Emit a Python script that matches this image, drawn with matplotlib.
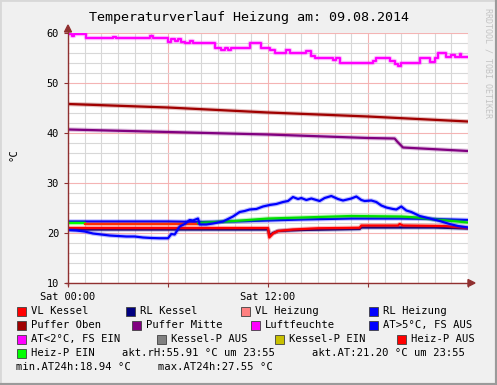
import matplotlib
matplotlib.use('Agg')
import matplotlib.pyplot as plt
from matplotlib.patches import Rectangle, Polygon
from matplotlib.lines import Line2D
from matplotlib.ticker import MultipleLocator, FixedLocator

# --- data (hours since Sat 00:00, degrees C / %rH) ---
luft_h = [0, 0.25, 0.35, 1.08, 2.7, 2.9, 4.9, 5.1, 6.0, 6.2, 6.4, 6.6, 6.8, 7.0, 7.3, 7.5,
          8.8, 9.2, 9.4, 9.6, 9.8, 10.9, 11.6, 12.1, 12.4, 13.1, 13.3, 14.3, 14.6, 14.8,
          15.9, 16.1, 16.3, 18.3, 18.5, 19.3, 19.6, 19.8, 20.0, 21.1, 21.7, 22.0, 22.2,
          22.7, 23.0, 23.2, 23.5, 23.6, 24]
luft_v = [59.9, 59.4, 59.9, 59, 59.3, 59, 59.4, 59, 58.3, 58.8, 58.5, 58.9, 58.3, 58, 58.4, 58,
          57, 56.6, 57, 56.6, 57, 58, 57, 56.6, 56, 56.6, 56, 56.5, 55.5, 55,
          54.7, 55, 54, 54.4, 55, 54.5, 53.8, 53.4, 54, 55, 54.3, 55, 56,
          55.3, 55.6, 55.2, 55.9, 55.3, 55.3]

oben_h = [0, 6, 12, 18, 24]
oben_v = [45.8, 45.1, 44.1, 43.3, 42.3]

mitte_h = [0, 6, 12, 18, 19.6, 19.75, 20.1, 24]
mitte_v = [40.7, 40.2, 39.7, 39.0, 38.9, 38.3, 37.1, 36.4]

rlh_h = [0, 6, 8, 10, 12, 14, 17, 20, 22, 24]
rlh_v = [22.3, 22.3, 22.2, 22.3, 22.5, 22.7, 22.9, 22.9, 22.8, 22.6]

# VL Heizung, coloured by heating pump state
vlh_ein1_h = [0, 1.0]
vlh_ein1_v = [22.1, 22.1]
vlh_aus_h = [1.0, 7.8]
vlh_aus_v = [21.9, 21.9]
vlh_ein2_h = [7.8, 10, 12, 14, 17, 20, 21, 22, 24]
vlh_ein2_v = [22.0, 22.4, 22.9, 23.1, 23.4, 23.3, 23.1, 22.7, 22.1]

vlk_h = [0, 12.0, 12.08, 12.3, 12.6, 13.5, 15, 17.5, 17.6, 19.8, 19.9, 20.1, 22.6, 24]
vlk_v = [21.0, 21.0, 19.1, 19.9, 20.4, 20.7, 20.95, 21.05, 21.5, 21.5, 21.8, 21.5, 21.4, 21.0]

rlk_h = [0, 12.0, 12.1, 12.3, 12.6, 14, 17.5, 17.6, 22, 24]
rlk_v = [20.7, 20.7, 19.5, 20.0, 20.4, 20.6, 20.8, 21.1, 21.1, 20.9]

at_h = [0, 0.5, 1, 1.5, 2, 2.5, 3, 3.5, 4, 4.5, 5, 5.5, 6, 6.2, 6.4, 6.7, 7, 7.3, 7.5, 7.8,
        7.9, 8.3, 8.7, 9.3, 9.9, 10.3, 10.6, 10.9, 11.3, 11.7, 12.1, 12.5, 12.9, 13.2, 13.5,
        13.8, 14.0, 14.3, 14.6, 15.1, 15.4, 15.8, 16.2, 16.5, 17.0, 17.3, 17.6, 17.8, 18.2,
        18.5, 18.8, 19.1, 19.5, 19.7, 20.0, 20.3, 20.6, 21.1, 21.7, 22.3, 22.9, 23.4, 24]
at_v = [20.6, 20.5, 20.3, 19.9, 19.7, 19.5, 19.4, 19.3, 19.3, 19.1, 19.0, 18.95, 18.95, 19.8,
        19.7, 21.3, 21.8, 22.6, 22.5, 22.9, 21.7, 21.7, 21.9, 22.3, 23.3, 24.2, 24.4, 24.7,
        24.8, 25.3, 25.6, 25.8, 26.2, 26.4, 27.2, 26.8, 27.0, 26.6, 26.9, 26.4, 27.0, 27.4,
        26.8, 26.5, 26.9, 27.3, 26.6, 26.4, 26.5, 26.2, 25.5, 25.1, 24.8, 24.7, 25.3, 24.5,
        24.2, 23.4, 22.9, 22.4, 21.8, 21.4, 21.1]

x_tick_pos = [0, 6, 12, 18, 24]
x_tick_labels = ['Sat 00:00', '', 'Sat 12:00', '', '']

title = 'Temperaturverlauf Heizung am: 09.08.2014'

# legend rows: (label, colour)
legend_rows = [
    [('VL Kessel', '#ff0000'), ('RL Kessel', '#000080'), ('VL Heizung', '#ff8080'), ('RL Heizung', '#0000ff')],
    [('Puffer Oben', '#a00000'), ('Puffer Mitte', '#800080'), ('Luftfeuchte', '#ff00ff'), ('AT>5°C, FS AUS', '#0000ff')],
    [('AT<2°C, FS EIN', '#ff00ff'), ('Kessel-P AUS', '#808080'), ('Kessel-P EIN', '#c8c000'), ('Heiz-P AUS', '#ff0000')],
    [('Heiz-P EIN', '#00ff00')],
]
legend_x = [[17, 126, 241, 369], [17, 132, 251, 369], [17, 157, 275, 397], [17]]
stats_row4 = [('akt.rH:55.91 °C um 23:55', 122), ('akt.AT:21.20 °C um 23:55', 312)]
stats_row5 = [('min.AT24h:18.94 °C', 16), ('max.AT24h:27.55 °C', 158)]

W, H = 497, 385
MONO = 'DejaVu Sans Mono'
AXC = '#903030'


def fx(x):
    return x / W


def fy(y):
    return 1 - y / H


fig = plt.figure(figsize=(W / 100, H / 100), dpi=100, facecolor='#f0f0f0')
ax = fig.add_axes([fx(68), fy(283), 400 / W, 250 / H])
ax.set_facecolor('white')


def line(h, v, col, **kw):
    # faint wide halo like the rrd min/max shading, then the line itself
    ax.plot(h, v, color=col, lw=3.2, alpha=0.25, solid_capstyle='butt', **kw)
    ax.plot(h, v, color=col, lw=1.6, **kw)


line(rlk_h, rlk_v, '#000080')
line(vlk_h, vlk_v, '#ff0000')
line(rlh_h, rlh_v, '#0000ff')
line(vlh_ein1_h, vlh_ein1_v, '#00ff00')
line(vlh_aus_h, vlh_aus_v, '#ff3000')
line(vlh_ein2_h, vlh_ein2_v, '#00e000')
line(at_h, at_v, '#0000ff')
line(oben_h, oben_v, '#a00000')
line(mitte_h, mitte_v, '#800080')
line(luft_h, luft_v, '#ff00ff', drawstyle='steps-post')

ax.set_xlim(0, 24)
ax.set_ylim(10, 60)
ax.xaxis.set_major_locator(FixedLocator(x_tick_pos))
ax.set_xticklabels(x_tick_labels)
ax.xaxis.set_minor_locator(MultipleLocator(1))
ax.yaxis.set_major_locator(MultipleLocator(10))
ax.yaxis.set_minor_locator(MultipleLocator(2))
ax.grid(which='minor', color='#d8d8d8', lw=0.8)
ax.grid(which='major', color='#f4b4b4', lw=0.8)
ax.set_axisbelow(True)
for s in ax.spines.values():
    s.set_visible(False)
ax.tick_params(which='major', length=3, color=AXC, pad=3.5, labelsize=7.4)
ax.tick_params(which='minor', length=0)
for lab in ax.get_xticklabels() + ax.get_yticklabels():
    lab.set_family(MONO)

# axes with arrows
fig.add_artist(Line2D([fx(68), fx(68)], [fy(285), fy(30)], color=AXC, lw=1))
fig.add_artist(Line2D([fx(66), fx(470)], [fy(283), fy(283)], color=AXC, lw=1))
fig.add_artist(Polygon([(fx(68), fy(25)), (fx(64.5), fy(32)), (fx(71.5), fy(32))], color=AXC))
fig.add_artist(Polygon([(fx(475), fy(283)), (fx(468), fy(279.5)), (fx(468), fy(286.5))], color=AXC))

fig.text(fx(249), fy(17), title, family=MONO, fontsize=9.6, ha='center', va='center')
fig.text(fx(14), fy(155), '°C', family=MONO, fontsize=7.6, rotation=90, ha='center', va='center')
fig.text(fx(488), fy(63), 'RRDTOOL / TOBI OETIKER', family=MONO, fontsize=6,
         rotation=270, ha='center', va='center', color='#c4c4c4')

row_y = [311, 325, 339, 353, 367]
for r, row in enumerate(legend_rows):
    for (label, col), sx in zip(row, legend_x[r]):
        fig.add_artist(Rectangle((fx(sx), fy(row_y[r] + 4.5)), 9 / W, 9 / H,
                                 facecolor=col, edgecolor='#404040', lw=0.6))
        fig.text(fx(sx + 14), fy(row_y[r]), label, family=MONO, fontsize=7.6, va='center')
for txt, tx in stats_row4:
    fig.text(fx(tx), fy(row_y[3]), txt, family=MONO, fontsize=7.6, va='center')
for txt, tx in stats_row5:
    fig.text(fx(tx), fy(row_y[4]), txt, family=MONO, fontsize=7.6, va='center')

# 3d frame
fig.add_artist(Line2D([0, 0], [0, 1], color='#d8d8d8', lw=2))
fig.add_artist(Line2D([0, 1], [1, 1], color='#d8d8d8', lw=2))
fig.add_artist(Line2D([1, 1], [0, 1], color='#9a9a9a', lw=3))
fig.add_artist(Line2D([0, 1], [0, 0], color='#9a9a9a', lw=3))

fig.savefig('out.png', dpi=100, facecolor=fig.get_facecolor())
